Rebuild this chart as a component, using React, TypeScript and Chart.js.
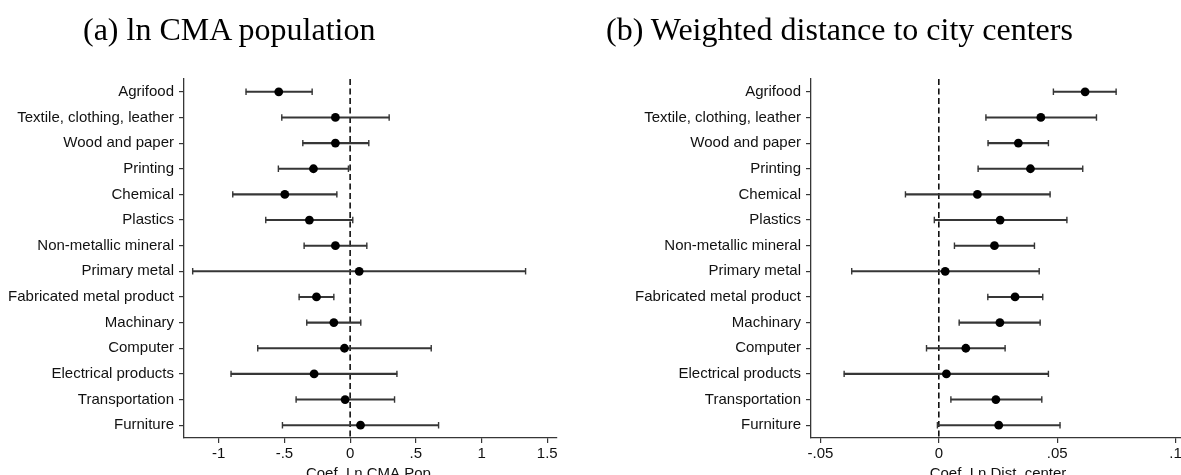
import React, { useEffect, useRef } from 'react';
import { Chart, registerables } from 'chart.js';

Chart.register(...registerables);

const categories = [
  'Agrifood',
  'Textile, clothing, leather',
  'Wood and paper',
  'Printing',
  'Chemical',
  'Plastics',
  'Non-metallic mineral',
  'Primary metal',
  'Fabricated metal product',
  'Machinary',
  'Computer',
  'Electrical products',
  'Transportation',
  'Furniture',
];

const popCoef = [-0.543, -0.112, -0.112, -0.279, -0.497, -0.31, -0.112, 0.069, -0.256, -0.124, -0.043, -0.274, -0.038, 0.079];
const popLo = [-0.792, -0.52, -0.36, -0.546, -0.893, -0.642, -0.35, -1.198, -0.388, -0.33, -0.703, -0.906, -0.411, -0.515];
const popHi = [-0.289, 0.297, 0.142, -0.013, -0.101, 0.02, 0.127, 1.335, -0.124, 0.081, 0.617, 0.356, 0.338, 0.673];

const distCoef = [0.0618, 0.0431, 0.0336, 0.0387, 0.0163, 0.0259, 0.0235, 0.0027, 0.0322, 0.0258, 0.0114, 0.0032, 0.0241, 0.0253];
const distLo = [0.0484, 0.0199, 0.0208, 0.0166, -0.0141, -0.0019, 0.0066, -0.0368, 0.0207, 0.0086, -0.0052, -0.04, 0.0051, -0.0006];
const distHi = [0.0749, 0.0666, 0.0463, 0.0608, 0.047, 0.0541, 0.0404, 0.0424, 0.0439, 0.0428, 0.028, 0.0463, 0.0435, 0.0512];

const popTickValues = [-1, -0.5, 0, 0.5, 1, 1.5];
const popTickLabels = ['-1', '-.5', '0', '.5', '1', '1.5'];
const distTickValues = [-0.05, 0, 0.05, 0.1];
const distTickLabels = ['-.05', '0', '.05', '.1'];

const titleA = '(a) ln CMA population';
const titleB = '(b) Weighted distance to city centers';
const axisTitleA = 'Coef. Ln CMA Pop.';
const axisTitleB = 'Coef. Ln Dist. center';

const SANS = '"Liberation Sans", Arial, sans-serif';
const SERIF = '"Liberation Serif", "Times New Roman", serif';
const LINE = '#363636';
const CANVAS_H = 490;

const zeroLinePlugin = {
  id: 'zeroLine',
  beforeDatasetsDraw(chart: any) {
    const x = chart.scales.x.getPixelForValue(0);
    const { top, bottom } = chart.chartArea;
    const ctx = chart.ctx;
    ctx.save();
    ctx.strokeStyle = '#000';
    ctx.lineWidth = 1.5;
    ctx.setLineDash([6, 3.5]);
    ctx.beginPath();
    ctx.moveTo(x, top);
    ctx.lineTo(x, bottom);
    ctx.stroke();
    ctx.restore();
  },
};

type PanelProps = {
  coef: number[];
  lo: number[];
  hi: number[];
  min: number;
  max: number;
  tickValues: number[];
  tickLabels: string[];
  axisTitle: string;
  yWidth: number;
  width: number;
  rightPad: number;
  left: number;
};

function Panel(p: PanelProps) {
  const ref = useRef<HTMLCanvasElement | null>(null);
  useEffect(() => {
    if (!ref.current) return;
    const chart = new Chart(ref.current, {
      type: 'bar',
      data: {
        labels: categories,
        datasets: [
          {
            type: 'scatter',
            data: p.coef.map((v, i) => ({ x: v, y: categories[i] })),
            backgroundColor: '#000',
            borderColor: '#000',
            pointRadius: 4.4,
            pointBorderWidth: 0,
            order: 0,
          } as any,
          {
            type: 'scatter',
            data: p.lo.map((v, i) => ({ x: v, y: categories[i] })),
            pointStyle: 'line',
            rotation: 90,
            pointRadius: 3.2,
            borderColor: LINE,
            pointBorderWidth: 1.4,
            order: 1,
          } as any,
          {
            type: 'scatter',
            data: p.hi.map((v, i) => ({ x: v, y: categories[i] })),
            pointStyle: 'line',
            rotation: 90,
            pointRadius: 3.2,
            borderColor: LINE,
            pointBorderWidth: 1.4,
            order: 1,
          } as any,
          {
            type: 'bar',
            data: p.lo.map((v, i) => [v, p.hi[i]]),
            backgroundColor: LINE,
            borderWidth: 0,
            barThickness: 1.4,
            order: 2,
          } as any,
        ],
      },
      options: {
        indexAxis: 'y',
        responsive: false,
        animation: false,
        devicePixelRatio: 1,
        layout: { padding: { top: 79, right: p.rightPad, left: 0, bottom: 0 } },
        plugins: { legend: { display: false }, tooltip: { enabled: false } },
        scales: {
          x: {
            type: 'linear',
            min: p.min,
            max: p.max,
            afterBuildTicks: (s: any) => {
              s.ticks = p.tickValues.map((v) => ({ value: v }));
            },
            afterFit: (s: any) => {
              s.height = CANVAS_H - 438;
            },
            ticks: {
              callback: (_v: any, i: number) => p.tickLabels[i],
              font: { family: SANS, size: 15 },
              color: '#111',
              padding: 2,
              autoSkip: false,
              maxRotation: 0,
            },
            grid: { drawOnChartArea: false, tickLength: 5, color: LINE, lineWidth: 1.2 },
            border: { display: true, color: LINE, width: 1.3 },
            title: {
              display: true,
              text: p.axisTitle,
              font: { family: SANS, size: 15 },
              color: '#111',
              padding: { top: 0, bottom: 7 },
            },
          },
          y: {
            type: 'category',
            offset: true,
            afterFit: (s: any) => {
              s.width = p.yWidth;
            },
            ticks: {
              font: { family: SANS, size: 15 },
              color: '#111',
              padding: 5,
              autoSkip: false,
            },
            grid: { drawOnChartArea: false, offset: false, tickLength: 5, color: LINE, lineWidth: 1.2 },
            border: { display: true, color: LINE, width: 1.3 },
          },
        },
      } as any,
      plugins: [zeroLinePlugin],
    });
    return () => chart.destroy();
  }, []);
  return (
    <div style={{ position: 'absolute', left: p.left, top: 0, width: p.width, height: CANVAS_H }}>
      <canvas ref={ref} width={p.width} height={CANVAS_H} style={{ width: p.width, height: CANVAS_H, display: 'block' }} />
    </div>
  );
}

export default function App() {
  const titleStyle: React.CSSProperties = {
    position: 'absolute',
    top: 13,
    fontFamily: SERIF,
    fontSize: 32,
    lineHeight: '32px',
    color: '#000',
    whiteSpace: 'nowrap',
  };
  return (
    <div style={{ position: 'fixed', left: 0, top: 0, width: 1181, height: 475, overflow: 'hidden', background: '#fff' }}>
      <Panel
        coef={popCoef}
        lo={popLo}
        hi={popHi}
        min={-1.264}
        max={1.574}
        tickValues={popTickValues}
        tickLabels={popTickLabels}
        axisTitle={axisTitleA}
        yWidth={184}
        width={590}
        rightPad={33}
        left={0}
      />
      <Panel
        coef={distCoef}
        lo={distLo}
        hi={distHi}
        min={-0.054}
        max={0.104}
        tickValues={distTickValues}
        tickLabels={distTickLabels}
        axisTitle={axisTitleB}
        yWidth={211}
        width={630}
        rightPad={45}
        left={600}
      />
      <div style={{ ...titleStyle, left: 83 }}>{titleA}</div>
      <div style={{ ...titleStyle, left: 606 }}>{titleB}</div>
    </div>
  );
}
